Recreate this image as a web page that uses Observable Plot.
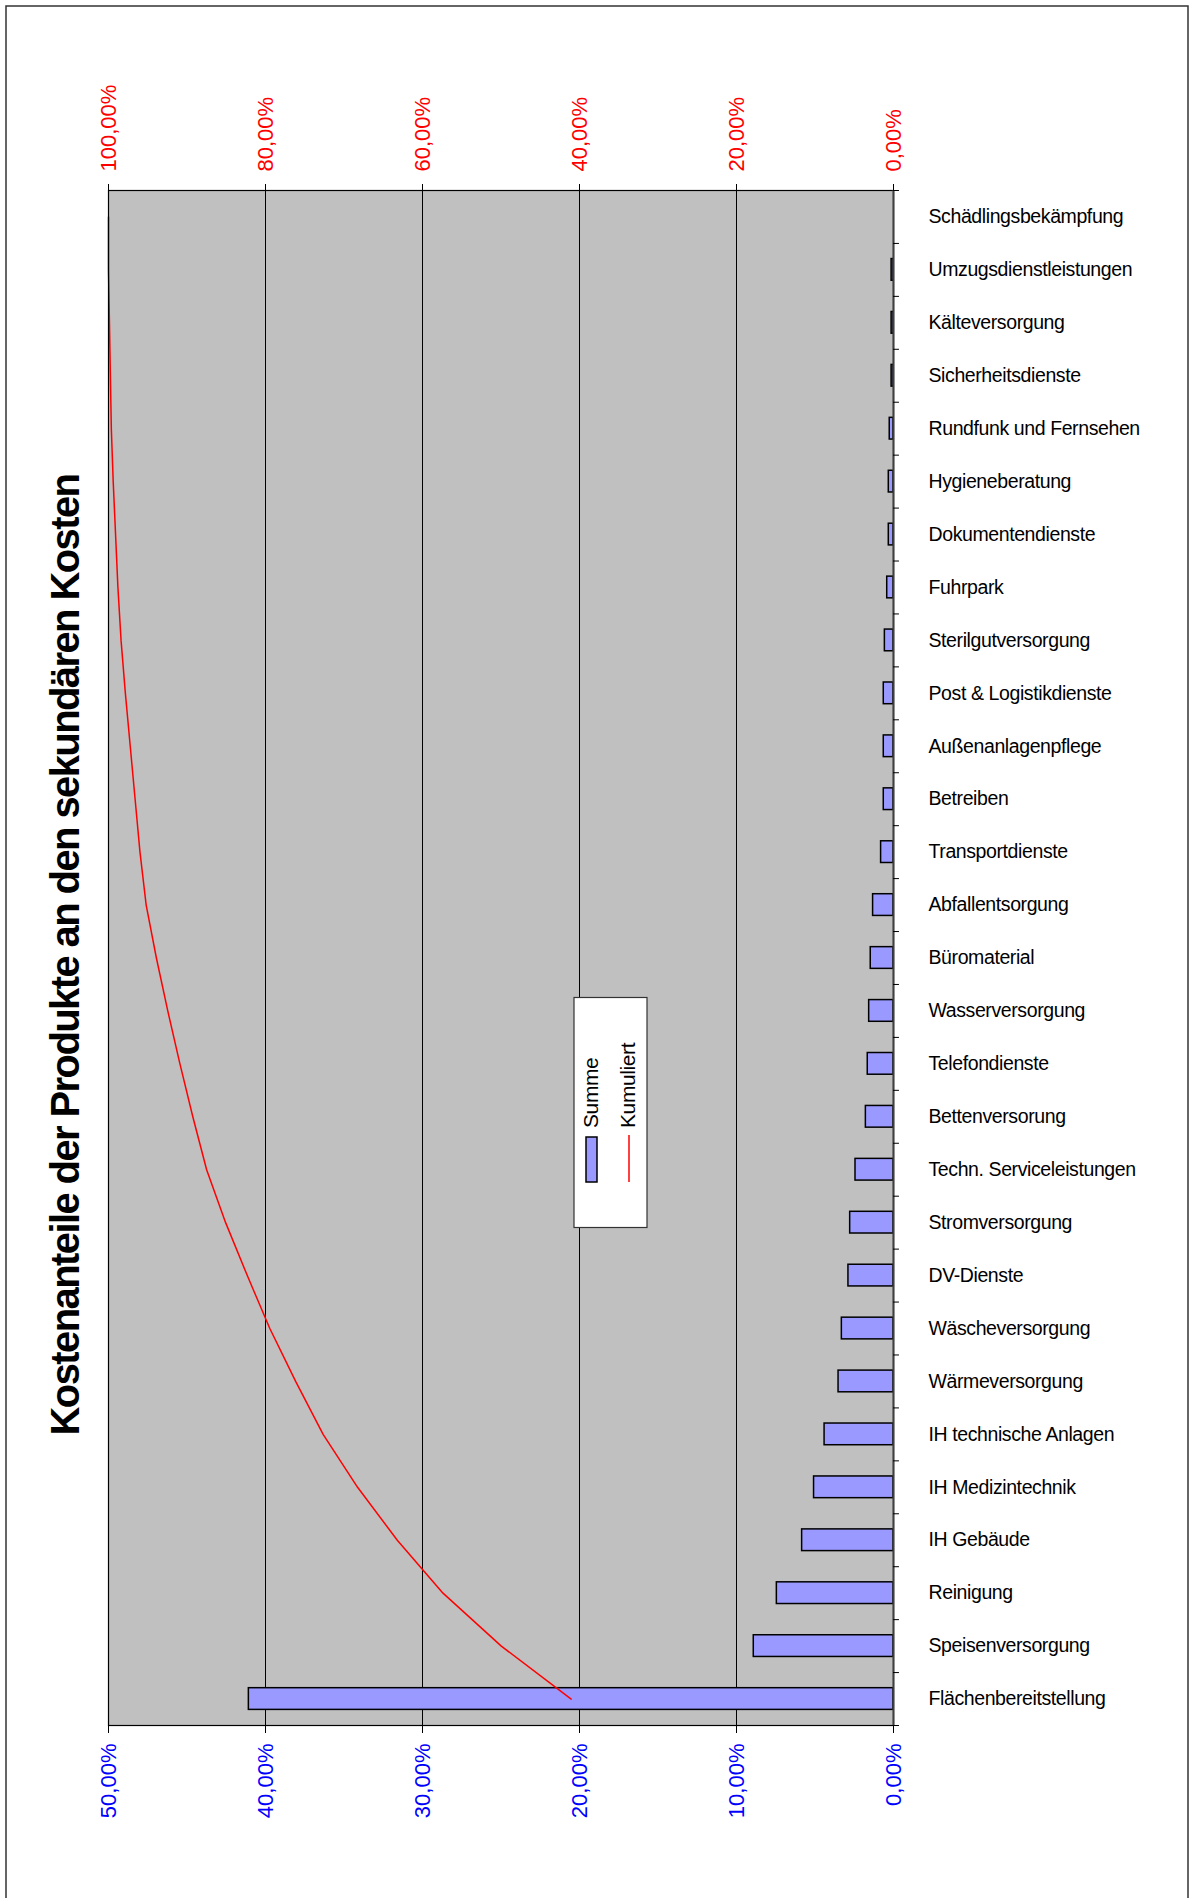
<!DOCTYPE html>
<html><head><meta charset="utf-8">
<script src="https://cdn.jsdelivr.net/npm/d3@7"></script>
<script src="https://cdn.jsdelivr.net/npm/@observablehq/plot@0.6"></script>
<style>
html,body{margin:0;padding:0;background:#fff;}
#chart svg{display:block;}
g[aria-label="y-axis tick label"] text{letter-spacing:-0.4px;}
</style></head><body><div id="chart"></div>
<script>
const title = "Kostenanteile der Produkte an den sekundären Kosten";
const legendLabels = ["Summe", "Kumuliert"];
const categories = [
  "Schädlingsbekämpfung","Umzugsdienstleistungen","Kälteversorgung","Sicherheitsdienste",
  "Rundfunk und Fernsehen","Hygieneberatung","Dokumentendienste","Fuhrpark",
  "Sterilgutversorgung","Post & Logistikdienste","Außenanlagenpflege","Betreiben",
  "Transportdienste","Abfallentsorgung","Büromaterial","Wasserversorgung",
  "Telefondienste","Bettenversorung","Techn. Serviceleistungen","Stromversorgung",
  "DV-Dienste","Wäscheversorgung","Wärmeversorgung","IH technische Anlagen",
  "IH Medizintechnik","IH Gebäude","Reinigung","Speisenversorgung","Flächenbereitstellung"
];
// share of each product in percent
const shares = [
  0.00, 0.12, 0.12, 0.12,
  0.24, 0.30, 0.30, 0.40,
  0.55, 0.62, 0.62, 0.62,
  0.79, 1.30, 1.45, 1.55,
  1.64, 1.76, 2.42, 2.76,
  2.87, 3.29, 3.50, 4.39,
  5.06, 5.82, 7.43, 8.90, 41.06
];
const bottomTicks = [0, 0.1, 0.2, 0.3, 0.4, 0.5];   // Summe axis (0–50 %)
const gridTicks = [0.1, 0.2, 0.3, 0.4];

const W = 1190, H = 1898, mt = 190, mb = 173, ml = 108, mr = 297;
const n = categories.length;
const total = d3.sum(shares);
const cumRev = Array.from(d3.cumsum(shares.slice().reverse()));
const data = categories.map((c, i) => ({cat: c, share: shares[i] / 100, cum: cumRev[n - 1 - i] / total}));
const fmt = v => (v * 100).toFixed(2).replace(".", ",") + "%";
const step = (H - mt - mb) / n;

const plot = Plot.plot({
  width: W, height: H, marginTop: mt, marginBottom: mb, marginLeft: ml, marginRight: mr,
  style: {fontFamily: '"Liberation Sans", Arial, sans-serif', background: "transparent", overflow: "visible"},
  x: {domain: [0, 0.5], reverse: true},
  y: {domain: categories, paddingInner: 0.59, paddingOuter: 0.295, align: 0.5, round: false},
  marks: [
    Plot.frame({fill: "#c0c0c0"}),
    Plot.ruleX(gridTicks, {stroke: "#000", strokeWidth: 1}),
    Plot.barX(data, {x: "share", y: "cat", fill: "#9999ff", stroke: "#000", strokeWidth: 1.5}),
    Plot.lineX(data, {x: d => d.cum / 2, y: "cat", stroke: "#ff0000", strokeWidth: 1.5}),
    Plot.frame({stroke: "#000", strokeWidth: 1.2}),
    Plot.ruleX([0], {stroke: "#404040", strokeWidth: 2}),
    Plot.ruleY(categories, {y: d => d, x1: 0, x2: -0.0038, dy: -step / 2, stroke: "#000"}),
    Plot.ruleY([categories[n - 1]], {y: d => d, x1: 0, x2: -0.0038, dy: step / 2, stroke: "#000"}),
    Plot.axisX(bottomTicks, {anchor: "bottom", tickFormat: fmt, tickRotate: -90, fontSize: 22,
      fill: "#0000ff", stroke: "#000", tickSize: 8, tickPadding: 10, label: null}),
    Plot.axisX(bottomTicks, {anchor: "top", tickFormat: d => fmt(d * 2), tickRotate: -90, fontSize: 22,
      fill: "#ff0000", stroke: "#000", tickSize: 7, tickPadding: 12, label: null}),
    Plot.axisY({anchor: "right", tickSize: 0, tickPadding: 35, fontSize: 19.5, fill: "#000", label: null})
  ]
});

const svg = d3.select(plot);
svg.insert("rect", ":first-child")
  .attr("x", 6).attr("y", 6).attr("width", 1182).attr("height", 1930)
  .attr("fill", "#fff").attr("stroke", "#333").attr("stroke-width", 1.5);

svg.append("text")
  .attr("transform", "translate(79,955) rotate(-90)")
  .attr("text-anchor", "middle")
  .attr("font-size", 40).attr("font-weight", "bold").attr("letter-spacing", "-1.6px")
  .attr("fill", "#000")
  .text(title);

const lg = svg.append("g");
lg.append("rect").attr("x", 574).attr("y", 997.5).attr("width", 73).attr("height", 230)
  .attr("fill", "#fff").attr("stroke", "#333").attr("stroke-width", 1.2);
lg.append("rect").attr("x", 586).attr("y", 1137).attr("width", 11).attr("height", 45)
  .attr("fill", "#9999ff").attr("stroke", "#000").attr("stroke-width", 1.5);
lg.append("line").attr("x1", 629).attr("x2", 629).attr("y1", 1135).attr("y2", 1182)
  .attr("stroke", "#ff0000").attr("stroke-width", 1.5);
lg.append("text").attr("transform", "translate(598,1128) rotate(-90)").attr("text-anchor", "start")
  .attr("font-size", 21).attr("letter-spacing", "-0.4px").attr("fill", "#000").text(legendLabels[0]);
lg.append("text").attr("transform", "translate(635,1128) rotate(-90)").attr("text-anchor", "start")
  .attr("font-size", 21).attr("letter-spacing", "-0.4px").attr("fill", "#000").text(legendLabels[1]);

document.getElementById("chart").appendChild(plot);
</script></body></html>
